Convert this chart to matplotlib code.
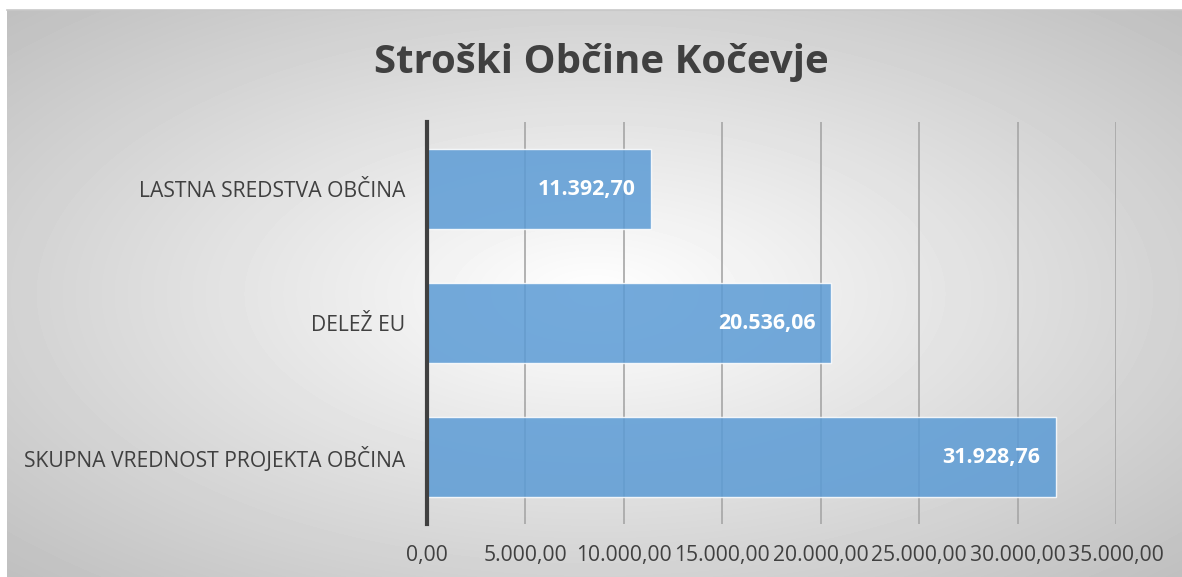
import matplotlib
matplotlib.use('Agg')
import matplotlib.pyplot as plt
import numpy as np

plt.rcParams['font.family'] = ['Open Sans', 'DejaVu Sans']

categories = ['SKUPNA VREDNOST PROJEKTA OBČINA', 'DELEŽ EU', 'LASTNA SREDSTVA OBČINA']
values = [31928.76, 20536.06, 11392.70]
value_labels = ['31.928,76', '20.536,06', '11.392,70']
xticks = [0, 5000, 10000, 15000, 20000, 25000, 30000, 35000]
xtick_labels = ['0,00', '5.000,00', '10.000,00', '15.000,00', '20.000,00',
                '25.000,00', '30.000,00', '35.000,00']

W, H = 1182, 577
fig = plt.figure(figsize=(W / 100, H / 100), dpi=100)
fig.patch.set_facecolor('white')

# background with radial gradient (chart frame)
fx0, fy0 = 7, 10
bg = fig.add_axes([fx0 / W, 0, (W - fx0) / W, (H - fy0) / H], zorder=0)
yy, xx = np.mgrid[0:H - fy0, 0:W - fx0]
cx, cy = (W - fx0) / 2, (H - fy0) / 2
d = np.sqrt(((xx - cx) / cx) ** 2 + ((yy - cy) / cy) ** 2) / np.sqrt(2)
shade = 1.0 - 0.25 * np.clip(d, 0, 1)
bg.imshow(shade, cmap='gray', vmin=0, vmax=1, aspect='auto', interpolation='bilinear')
bg.set_xticks([])
bg.set_yticks([])
for s in ['left', 'right', 'bottom']:
    bg.spines[s].set_visible(False)
bg.spines['top'].set_color('#c8c8c8')
bg.spines['top'].set_linewidth(1.2)

# plot area
ax_l, ax_r = 427, 1116
ax_t, ax_b = 122, 524
ax = fig.add_axes([ax_l / W, 1 - ax_b / H, (ax_r - ax_l) / W, (ax_b - ax_t) / H], zorder=1)
ax.patch.set_alpha(0)

y = np.arange(len(categories))
bars = ax.barh(y, values, height=0.6, color='#5b9bd5', alpha=0.85,
               edgecolor='white', linewidth=1.0, zorder=3)
ax.set_xlim(0, 35000)
ax.set_ylim(-0.5, len(categories) - 0.5)

ax.set_xticks(xticks)
ax.set_xticklabels(xtick_labels, fontsize=15.2, color='#404040')
ax.set_yticks(y)
ax.set_yticklabels(categories, fontsize=15.2, color='#404040')
ax.tick_params(axis='x', length=0, pad=15)
ax.tick_params(axis='y', length=0, pad=15.5)

ax.grid(axis='x', color='#a6a6a6', linewidth=1.2, zorder=2)
for s in ['top', 'right', 'bottom']:
    ax.spines[s].set_visible(False)
ax.spines['left'].set_color('#404040')
ax.spines['left'].set_linewidth(3)
ax.spines['left'].set_zorder(4)

for v, yi, lab in zip(values, y, value_labels):
    ax.annotate(lab, (v, yi), xytext=(-11.5, 0), textcoords='offset points',
                ha='right', va='center', color='white', fontsize=15.4,
                fontweight='bold', zorder=5)

fig.text(601 / W, 1 - 63 / H, 'Stroški Občine Kočevje', ha='center', va='center',
         fontsize=29, fontweight='bold', color='#404040')

fig.savefig('out.png', dpi=100)
